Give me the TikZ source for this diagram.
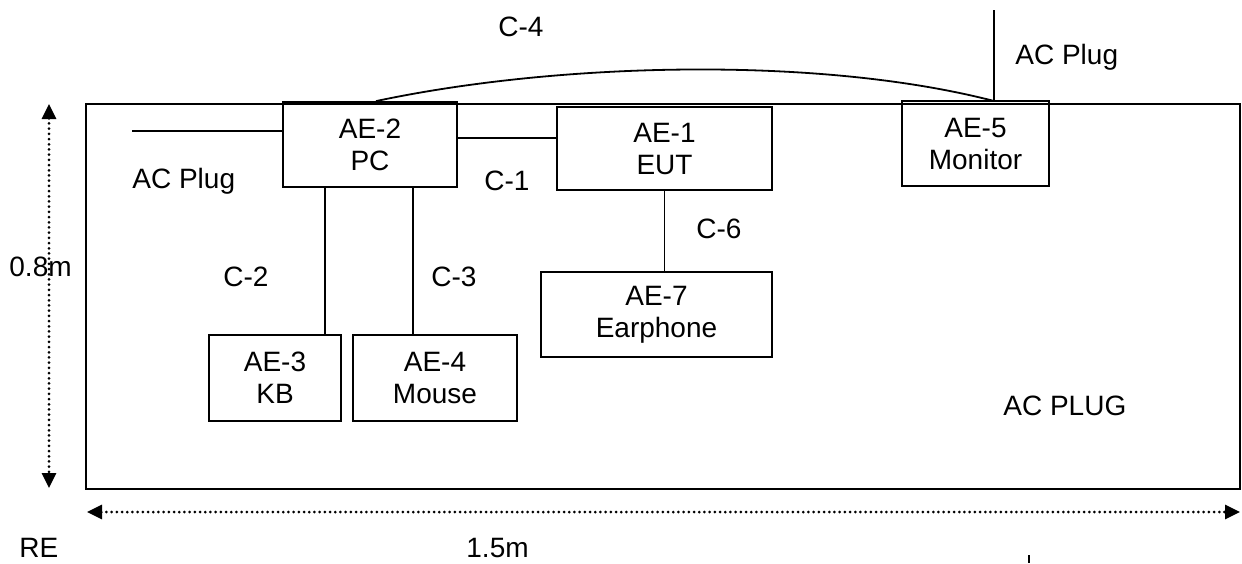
\documentclass[tikz,border=0pt]{standalone}
\usepackage{fontspec}
\setmainfont{Liberation Sans}
\usetikzlibrary{arrows.meta}

\begin{document}
\begin{tikzpicture}[x=0.5pt, y=-0.5pt,
        every node/.style={font=\fontsize{14pt}{16pt}\selectfont},
        unit/.style={draw, line width=0.9pt, align=center, inner sep=0pt},
        lbl/.style={anchor=base west, inner sep=0pt},
        cable/.style={line width=0.9pt},
        dim/.style={line width=1.5pt, line cap=round, dash pattern=on 0pt off 2.6pt,
            {Triangle[length=7.5pt,width=7pt]}-{Triangle[length=7.5pt,width=7pt]}}
    ]
        \useasboundingbox (0,0) rectangle (1242,563);

        % table
        \draw[cable] (86,104) rectangle (1240,489);

        \node[unit, minimum width=87pt, minimum height=42.5pt] (pc) at (370,144.5) {AE-2\\PC};
        \node[unit, minimum width=107.5pt, minimum height=41.5pt] (eut) at (664.5,148.5) {AE-1\\EUT};
        \node[unit, minimum width=73.5pt, minimum height=42.5pt] (mon) at (975.5,143.5) {AE-5\\Monitor};
        \node[unit, minimum width=66pt, minimum height=43pt] (kb) at (275,378) {AE-3\\KB};
        \node[unit, minimum width=82pt, minimum height=43pt] (mouse) at (435,378) {AE-4\\Mouse};
        \node[unit, minimum width=115.5pt, minimum height=42.5pt] (ear) at (656.5,314.5) {AE-7\\Earphone};

        \coordinate (plugL) at (132,131);
        \coordinate (c4end) at (994,101);
        \coordinate (plugT) at (994,10);

        % cables
        \draw[cable] (plugL) -- (plugL -| pc.west);
        \draw[cable] ([yshift=3.25pt]pc.east) -- ([yshift=3.25pt]pc.east -| eut.west);
        \draw[cable] ([xshift=-22.5pt]pc.south) -- ([xshift=-22.5pt]pc.south |- kb.north);
        \draw[cable] ([xshift=21.5pt]pc.south) -- ([xshift=21.5pt]pc.south |- mouse.north);
        \draw[cable] (eut.south) -- (eut.south |- ear.north);
        \draw[cable] ([xshift=3pt]pc.north) .. controls (560,62) and (820,56) .. (c4end);
        \draw[cable] (c4end) -- (plugT);

        \node[lbl] (lplug) at (132,188) {AC Plug};
        \node[lbl] (l1) at (484,190) {C-1};
        \node[lbl] (l6) at (696,238) {C-6};
        \node[lbl] (l2) at (223,286) {C-2};
        \node[lbl] (l3) at (431,286) {C-3};
        \node[lbl] (l4) at (498,36) {C-4};
        \node[lbl] (rplug) at (1015,64) {AC Plug};
        \node[lbl] (bplug) at (1003,415) {AC PLUG};

        % dimensions
        \coordinate (vtop) at (49,104);
        \coordinate (vbot) at (49,488);
        \coordinate (hleft) at (87,512);
        \coordinate (hright) at (1240,512);
        \draw[dim] (vtop) -- (vbot);
        \draw[dim] (hleft) -- (hright);
        \node[lbl] (hgt) at (9,276) {0.8m};
        \node[lbl] (wid) at (466,557) {1.5m};
        \node[lbl] (re) at (19,557) {RE};

        \draw[cable] (1029,555) -- (1029,563);
    \end{tikzpicture}
\end{document}
